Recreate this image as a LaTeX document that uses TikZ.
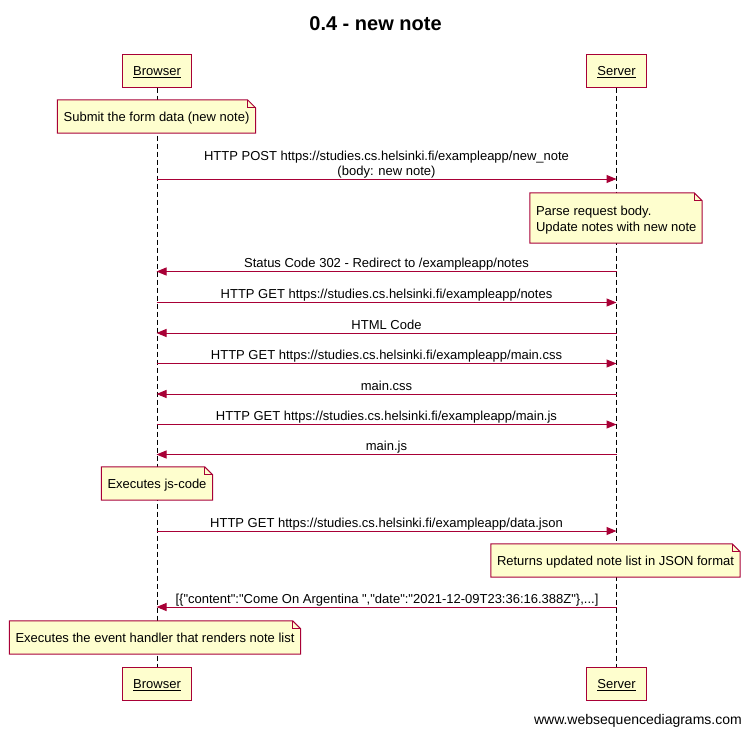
\documentclass[tikz,border=0pt]{standalone}
\usepackage{fontspec}
\setmainfont{Liberation Sans}[Ligatures=TeXOff]
\usetikzlibrary{arrows.meta}
\definecolor{wsdline}{HTML}{A80036}
\definecolor{wsdfill}{HTML}{FEFECE}
\newcommand\wsdnotefold[1]{%
  \fill[white] ([xshift=-8pt]#1.north east) -- (#1.north east) -- ([yshift=-8pt]#1.north east) -- cycle;
  \draw[wsdline, line width=1pt] (#1.north west) -- ([xshift=-8pt]#1.north east) -- ([yshift=-8pt]#1.north east) -- (#1.south east) -- (#1.south west) -- cycle;
  \draw[wsdline, line width=1pt] ([xshift=-8pt]#1.north east) |- ([yshift=-8pt]#1.north east);}
\begin{document}
\begin{tikzpicture}[x=1pt,y=-1pt,
  txt/.style={font=\fontsize{13}{16}\selectfont, inner sep=0pt},
  participant/.style={txt, draw=wsdline, fill=wsdfill, line width=1pt, inner xsep=11pt, minimum height=33pt, text height=9.4pt, text depth=0pt},
  notebox/.style={txt, fill=wsdfill, inner xsep=6pt, align=left, minimum height=33pt, text height=9.4pt, text depth=0pt},
  lifeline/.style={black, line width=1pt, dash pattern=on 5pt off 3pt},
  msg/.style={wsdline, line width=1pt, -{Triangle[length=10pt,width=8pt]}},
  lbl/.style={txt, anchor=base}]
\useasboundingbox (0,0) rectangle (751,734);
\fill[white] (0,0) rectangle (751,734);

\node[font=\bfseries\fontsize{20}{24}\selectfont, anchor=base, inner sep=0pt] (title) at (375.5,30.5) {0.4 - new note};

% participants
\node[participant] (bt) at (157,70.5) {\underline{Browser}};
\node[participant] (st) at (616.5,70.5) {\underline{Server}};
\node[participant] (bb) at (157,683.5) {\underline{Browser}};
\node[participant] (sb) at (616.5,683.5) {\underline{Server}};

% lifelines
\draw[lifeline] (bt.south) -- (bb.north);
\draw[lifeline] (st.south) -- (sb.north);

% lifeline points
\foreach \n/\y in {1/179,2/271.5,3/302.5,4/333,5/363.5,6/394,7/424.5,8/454.5,9/531,10/607}{
  \coordinate (B\n) at (156.5,\y);
  \coordinate (S\n) at (616.5,\y);
}

% notes
\node[notebox] (n1) at (156.5,116.5) {Submit the form data (new note)};
\wsdnotefold{n1}
\node[txt, fill=wsdfill, minimum width=172pt, minimum height=50pt] (n2) at (616,218) {};
\wsdnotefold{n2}
\node[txt, align=left, anchor=west] (n2t) at ([xshift=6pt,yshift=-2pt]n2.west) {Parse request body.\\Update notes with new note};
\node[notebox] (n3) at (157,483.5) {Executes js-code};
\wsdnotefold{n3}
\node[notebox] (n4) at (615.5,560.5) {Returns updated note list in JSON format};
\wsdnotefold{n4}
\node[notebox] (n5) at (155,637.5) {Executes the event handler that renders note list};
\wsdnotefold{n5}

% messages
\node[lbl] (t1a) at (386.5,160.5) {HTTP POST https://studies.cs.helsinki.fi/exampleapp/new\_note};
\node[lbl] (t1b) at (386.5,175) {(body: new note)};
\draw[msg] (B1) -- (S1);
\node[lbl] (t2) at (386.5,267.5) {Status Code 302 - Redirect to /exampleapp/notes};
\draw[msg] (S2) -- (B2);
\node[lbl] (t3) at (386.5,298.5) {HTTP GET https://studies.cs.helsinki.fi/exampleapp/notes};
\draw[msg] (B3) -- (S3);
\node[lbl] (t4) at (386.5,329) {HTML Code};
\draw[msg] (S4) -- (B4);
\node[lbl] (t5) at (386.5,359.5) {HTTP GET https://studies.cs.helsinki.fi/exampleapp/main.css};
\draw[msg] (B5) -- (S5);
\node[lbl] (t6) at (386.5,390) {main.css};
\draw[msg] (S6) -- (B6);
\node[lbl] (t7) at (386.5,420.5) {HTTP GET https://studies.cs.helsinki.fi/exampleapp/main.js};
\draw[msg] (B7) -- (S7);
\node[lbl] (t8) at (386.5,450.5) {main.js};
\draw[msg] (S8) -- (B8);
\node[lbl] (t9) at (386.5,527) {HTTP GET https://studies.cs.helsinki.fi/exampleapp/data.json};
\draw[msg] (B9) -- (S9);
\node[lbl] (t10) at (387,603) {[\{"content":"Come On Argentina ","date":"2021-12-09T23:36:16.388Z"\},...]};
\draw[msg] (S10) -- (B10);

\node[txt, font=\fontsize{14}{16}\selectfont, anchor=base east] (foot) at (742,724) {www.websequencediagrams.com};
\end{tikzpicture}
\end{document}
